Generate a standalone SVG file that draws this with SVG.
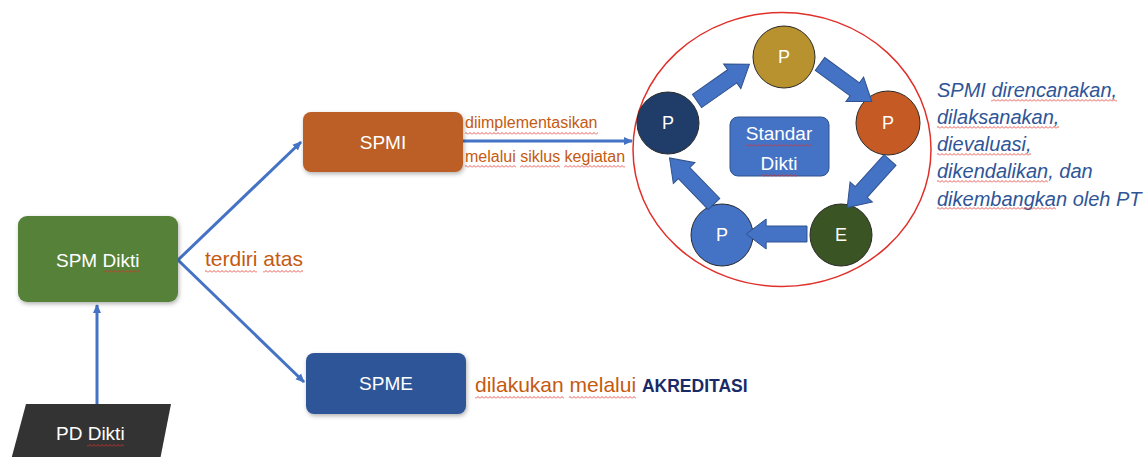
<svg xmlns="http://www.w3.org/2000/svg" xmlns:xlink="http://www.w3.org/1999/xlink" width="1148" height="457" viewBox="0 0 1148 457">
<style>
  .lbl{font-family:"Liberation Sans",Arial,sans-serif;fill:#ffffff;font-size:19px}
  .cl{font-family:"Liberation Sans",Arial,sans-serif;fill:#ffffff;font-size:18px;text-anchor:middle}
  .org{font-family:"Liberation Sans",Arial,sans-serif;fill:#c55a11}
  .blu{font-family:"Liberation Sans",Arial,sans-serif;fill:#2f5597;font-style:italic;font-size:20px}
  .con{stroke:#4472c4;stroke-width:3;fill:none}
  .cir{stroke:#2b2b2b;stroke-width:1}
  .blk{fill:#4472c4;stroke:#2f528f;stroke-width:1}
  .sq{fill:url(#sq)}
</style>
<defs>
  <marker id="ah" markerWidth="10" markerHeight="10" refX="8" refY="5" orient="auto" markerUnits="userSpaceOnUse">
    <path d="M0,1 L9,5 L0,9 Z" fill="#4472c4"/>
  </marker>
  <pattern id="sq" width="4" height="3" patternUnits="userSpaceOnUse">
    <path d="M0,2.5 L2,0.5 L4,2.5" stroke="#e0302a" stroke-width="0.8" fill="none"/>
  </pattern>
  <filter id="sh" x="-10%" y="-10%" width="130%" height="140%">
    <feDropShadow dx="1" dy="2" stdDeviation="2" flood-color="#000" flood-opacity="0.3"/>
  </filter>
  <path id="blkarrow" d="M0,-8 L43,-8 L43,-15 L64,0 L43,15 L43,8 L0,8 Z"/>
</defs>
<rect width="1148" height="457" fill="#ffffff"/>

<g id="connectors">
  <line class="con" x1="97" y1="404" x2="97" y2="305" marker-end="url(#ah)"/>
  <line class="con" x1="178" y1="260" x2="301" y2="142" marker-end="url(#ah)"/>
  <line class="con" x1="178" y1="260" x2="304" y2="382" marker-end="url(#ah)"/>
  <line class="con" x1="463" y1="141" x2="632" y2="141" marker-end="url(#ah)"/>
</g>

<g id="spm-dikti">
  <rect x="18" y="216" width="160" height="86" rx="9" fill="#578139" filter="url(#sh)"/>
  <text class="lbl" x="56" y="267">SPM Dikti</text>
  <rect class="sq" x="103" y="270" width="37" height="3"/>
</g>

<g id="pd-dikti">
  <polygon points="26,404 171,404 160,460 11,460" fill="#333333"/>
  <text class="lbl" x="56" y="440">PD Dikti</text>
  <rect class="sq" x="87" y="444" width="37" height="3"/>
</g>

<g id="label-terdiri">
  <text class="org" x="205" y="266" font-size="21">terdiri atas</text>
  <rect class="sq" x="205" y="270" width="52" height="3"/>
  <rect class="sq" x="263" y="270" width="40" height="3"/>
</g>

<g id="spmi">
  <rect x="303" y="112" width="160" height="60" rx="8" fill="#bb5e27" filter="url(#sh)"/>
  <text class="lbl" x="383" y="149" text-anchor="middle">SPMI</text>
</g>

<g id="label-siklus">
  <text class="org" x="465" y="128" font-size="16">diimplementasikan</text>
  <rect class="sq" x="465" y="132" width="133" height="3"/>
  <text class="org" x="465" y="162" font-size="16">melalui siklus kegiatan</text>
  <rect class="sq" x="465" y="165" width="51" height="3"/>
  <rect class="sq" x="520" y="165" width="40" height="3"/>
  <rect class="sq" x="564" y="165" width="61" height="3"/>
</g>

<g id="spme">
  <rect x="306" y="353" width="160" height="61" rx="8" fill="#2f5597" filter="url(#sh)"/>
  <text class="lbl" x="386" y="390" text-anchor="middle">SPME</text>
</g>

<g id="label-akreditasi">
  <text x="475" y="392" font-family="Liberation Sans, Arial, sans-serif"><tspan class="org" font-size="21">dilakukan melalui </tspan><tspan font-size="17.5" font-weight="bold" fill="#1a2a66">AKREDITASI</tspan></text>
  <rect class="sq" x="475" y="396" width="89" height="3"/>
  <rect class="sq" x="569" y="396" width="67" height="3"/>
</g>

<g id="cycle">
  <ellipse cx="782" cy="149.5" rx="149" ry="137" fill="none" stroke="#e0302a" stroke-width="1.5"/>
  <g id="p-top">
    <circle class="cir" cx="784" cy="57" r="31" fill="#b8922e"/>
    <text class="cl" x="784" y="63">P</text>
  </g>
  <g id="p-right">
    <circle class="cir" cx="888" cy="123" r="32" fill="#c55a24"/>
    <text class="cl" x="888" y="129">P</text>
  </g>
  <g id="e-node">
    <circle class="cir" cx="841" cy="235" r="31" fill="#3a5424"/>
    <text class="cl" x="841" y="241">E</text>
  </g>
  <g id="p-bottom">
    <circle class="cir" cx="722" cy="235" r="31" fill="#4472c4"/>
    <text class="cl" x="722" y="241">P</text>
  </g>
  <g id="p-left">
    <circle class="cir" cx="668" cy="123" r="31" fill="#1f3d68"/>
    <text class="cl" x="668" y="129">P</text>
  </g>
  <g id="standar-dikti">
    <rect x="730" y="117" width="99" height="59" rx="8" fill="#4472c4" stroke="#2f528f" stroke-width="1"/>
    <text class="lbl" x="779" y="140" text-anchor="middle">Standar</text>
    <text class="lbl" x="779" y="170" text-anchor="middle">Dikti</text>
    <rect class="sq" x="746" y="144" width="66" height="3"/>
    <rect class="sq" x="761" y="174" width="36" height="3"/>
  </g>
  <g id="cycle-arrows">
    <use xlink:href="#blkarrow" class="blk" transform="translate(697,101) rotate(-35)"/>
    <use xlink:href="#blkarrow" class="blk" transform="translate(820,64) rotate(36)"/>
    <use xlink:href="#blkarrow" class="blk" transform="translate(890,160) rotate(132)"/>
    <use xlink:href="#blkarrow" class="blk" transform="translate(807,234) rotate(180) scale(0.95,1)"/>
    <use xlink:href="#blkarrow" class="blk" transform="translate(714,204) rotate(-134)"/>
  </g>
</g>

<g id="label-spmi-desc">
  <text class="blu" x="937" y="97">SPMI direncanakan,</text>
  <text class="blu" x="937" y="124">dilaksanakan,</text>
  <text class="blu" x="937" y="151">dievaluasi,</text>
  <text class="blu" x="937" y="178">dikendalikan, dan</text>
  <text class="blu" x="937" y="206">dikembangkan oleh PT</text>
  <rect class="sq" x="991" y="99" width="126" height="3"/>
  <rect class="sq" x="937" y="126" width="122" height="3"/>
  <rect class="sq" x="937" y="153" width="94" height="3"/>
  <rect class="sq" x="937" y="180" width="111" height="3"/>
  <rect class="sq" x="937" y="207" width="119" height="3"/>
</g>
</svg>
